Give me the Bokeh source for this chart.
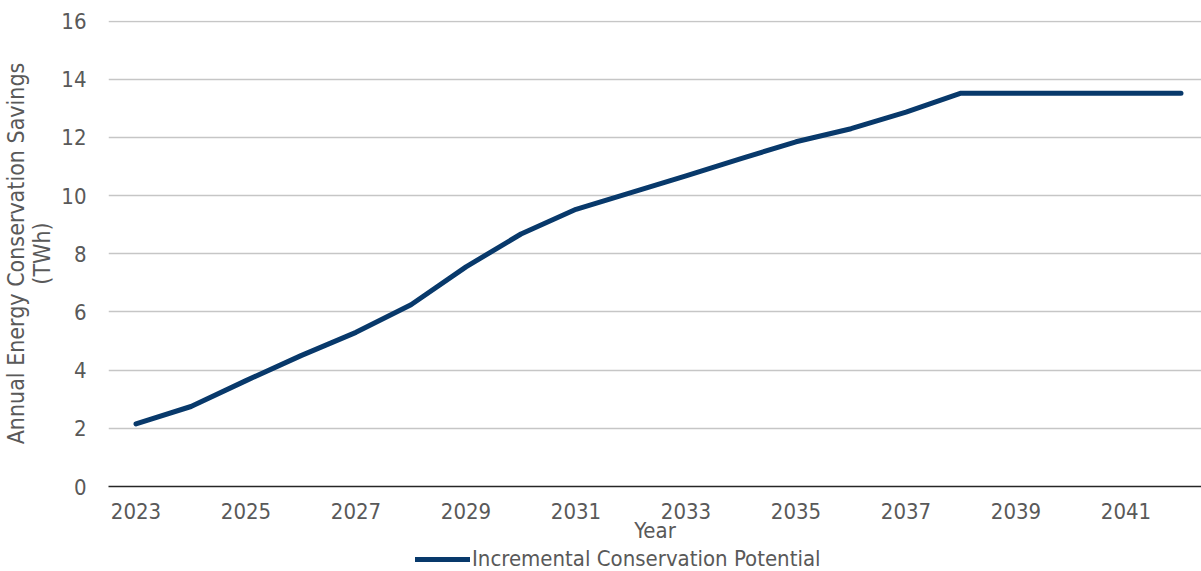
from bokeh.plotting import figure
from bokeh.layouts import column
from bokeh.models import Range1d, FixedTicker, Legend, LegendItem
from bokeh.embed import file_html
from bokeh.resources import INLINE

# Annual conservation savings by year (TWh)
years = list(range(2023, 2043))
savings = [2.15, 2.75, 3.64, 4.50, 5.30, 6.25, 7.55, 8.68, 9.53, 10.10,
           10.68, 11.27, 11.85, 12.30, 12.87, 13.52, 13.52, 13.52, 13.52, 13.52]
x_ticks = list(range(2023, 2043, 2))
y_ticks = list(range(0, 17, 2))
series_name = "Incremental Conservation Potential"

FONT = "DejaVu Sans Condensed"
TEXT = "#595959"
LINE = dict(line_color="#08396b", line_width=5, line_join="round", line_cap="round")

p = figure(frame_width=1093, frame_height=466,
           min_border_left=108, min_border_right=0,
           min_border_top=20, min_border_bottom=0,
           x_range=Range1d(2022.5, 2022.5 + 1093 / 55),
           y_range=Range1d(0, 16.02),
           output_backend="svg", toolbar_location=None)
p.outline_line_color = None
p.background_fill_color = "white"
p.border_fill_color = "white"

p.line(years, savings, **LINE)

# axes
p.xaxis.ticker = FixedTicker(ticks=x_ticks)
p.yaxis.ticker = FixedTicker(ticks=y_ticks)
for ax in (p.xaxis[0], p.yaxis[0]):
    ax.major_tick_line_color = None
    ax.minor_tick_line_color = None
    ax.major_label_text_font = FONT
    ax.major_label_text_font_size = "22px"
    ax.major_label_text_color = TEXT
    ax.axis_label_text_font = FONT
    ax.axis_label_text_font_size = "22px"
    ax.axis_label_text_color = TEXT
    ax.axis_label_text_font_style = "normal"

p.xaxis.axis_line_color = "#262626"
p.xaxis.axis_line_width = 1.5
p.xaxis.major_label_standoff = 10
p.xaxis.axis_label = "Year"
p.xaxis.axis_label_standoff = -4

p.yaxis.axis_line_color = None
p.yaxis.major_label_standoff = 16
p.yaxis.axis_label = "Annual Energy Conservation Savings\n(TWh)"
p.yaxis.axis_label_text_font_size = "23px"
p.yaxis.axis_label_text_line_height = 1.0
p.yaxis.axis_label_standoff = 3

p.xgrid.grid_line_color = None
p.ygrid.grid_line_color = "#c6c6c6"
p.ygrid.grid_line_width = 1.5

# legend strip: a bare plot under the chart holding only the legend entry;
# its series line falls outside the strip's ranges, so only the swatch shows
lg = figure(width=1201, height=26, title=None,
            min_border_left=0, min_border_right=0,
            min_border_top=0, min_border_bottom=0,
            x_range=Range1d(0, 1), y_range=Range1d(0, 1),
            x_axis_location=None, y_axis_location=None,
            output_backend="svg", toolbar_location=None)
lg.outline_line_color = None
lg.grid.grid_line_color = None
lg.background_fill_color = "white"
lg.border_fill_color = "white"
swatch = lg.line(years, savings, **LINE)

legend = Legend(items=[LegendItem(label=series_name, renderers=[swatch])],
                location=(415 - 108, 0),
                orientation="horizontal",
                glyph_width=55, glyph_height=22,
                label_standoff=2, padding=0, margin=0, spacing=0,
                label_text_font=FONT, label_text_font_size="22px",
                label_text_color=TEXT,
                border_line_alpha=0, background_fill_alpha=0)
lg.add_layout(legend, "center")

layout = column(p, lg, spacing=0)
open("out.html", "w").write(file_html(layout, INLINE))
